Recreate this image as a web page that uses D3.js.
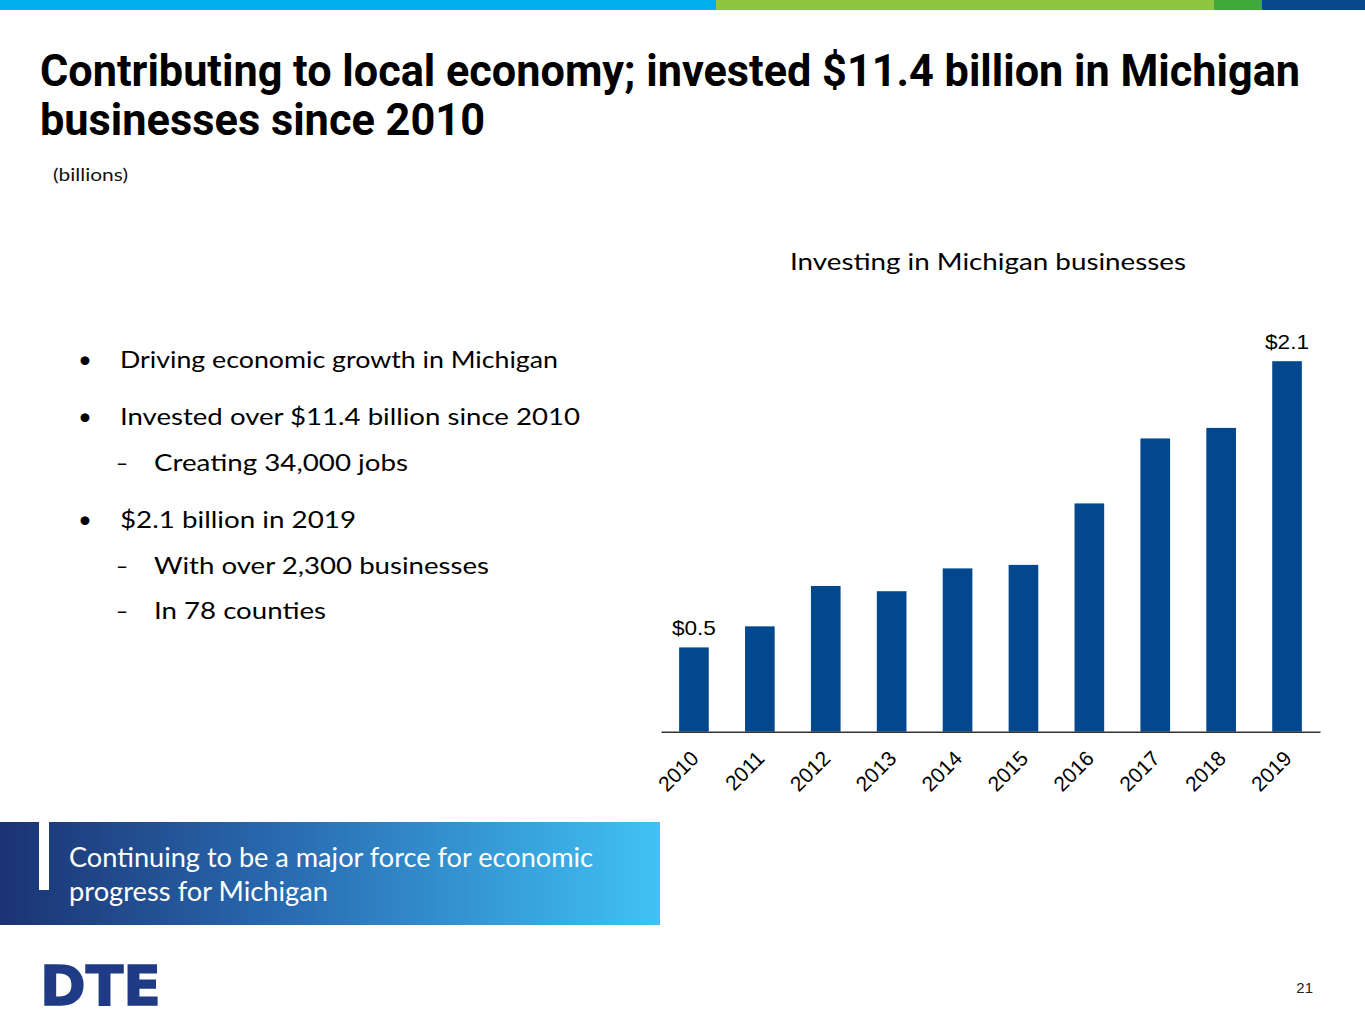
<!DOCTYPE html>
<html>
<head>
<meta charset="utf-8">
<script src="https://cdn.jsdelivr.net/npm/d3@7"></script>
<style>
  body { margin: 0; background: #fff; }
  svg { display: block; }
</style>
</head>
<body>
<div id="canvas"></div>
<script>
// chart data (billions)
var years = ["2010", "2011", "2012", "2013", "2014", "2015", "2016", "2017", "2018", "2019"];
var invested = [0.48, 0.60, 0.83, 0.80, 0.93, 0.95, 1.30, 1.67, 1.73, 2.11];
var valueLabels = { "2010": "$0.5", "2019": "$2.1" };

var titleLines = ["Contributing to local economy; invested $11.4 billion in Michigan", "businesses since 2010"];
var unitLabel = "(billions)";
var chartTitle = "Investing in Michigan businesses";
var bullets = [
  { level: 0, text: "Driving economic growth in Michigan" },
  { level: 0, text: "Invested over $11.4 billion since 2010" },
  { level: 1, text: "Creating 34,000 jobs" },
  { level: 0, text: "$2.1 billion in 2019" },
  { level: 1, text: "With over 2,300 businesses" },
  { level: 1, text: "In 78 counties" }
];
var bannerLines = ["Continuing to be a major force for economic", "progress for Michigan"];
var pageNum = "21";

// layout bits
var W = 1365, H = 1024;
var bodyFont = "Lato, 'Open Sans', sans-serif";
var labelFont = "'Liberation Sans', Arial, sans-serif";
var barColor = "#03488f";

var svg = d3.select("#canvas").append("svg")
    .attr("width", W)
    .attr("height", H);

// squeeze a text to a measured width
function fit(sel, w) {
  sel.attr("textLength", w).attr("lengthAdjust", "spacingAndGlyphs");
}

// ---- top colour strip
var strip = [
  { x0: 0, x1: 716, c: "#00aeef" },
  { x0: 716, x1: 1214, c: "#8dc63f" },
  { x0: 1214, x1: 1262, c: "#3fa93a" },
  { x0: 1262, x1: 1365, c: "#0a4a8c" }
];
svg.selectAll("rect.strip").data(strip).enter().append("rect")
    .attr("class", "strip")
    .attr("x", function(d) { return d.x0; })
    .attr("y", 0)
    .attr("width", function(d) { return d.x1 - d.x0; })
    .attr("height", 10)
    .attr("fill", function(d) { return d.c; });

// ---- title
var titleW = [1260, 445];
svg.selectAll("text.title").data(titleLines).enter().append("text")
    .attr("class", "title")
    .attr("x", 40)
    .attr("y", function(d, i) { return 86 + i * 49; })
    .attr("font-family", "'Liberation Sans Narrow', Roboto, sans-serif")
    .attr("font-weight", 700)
    .attr("font-size", 44)
    .attr("fill", "#000")
    .text(function(d) { return d; })
    .each(function(d, i) { fit(d3.select(this), titleW[i]); });

svg.append("text")
    .attr("x", 53)
    .attr("y", 181)
    .attr("font-family", bodyFont)
    .attr("font-size", 17)
    .attr("fill", "#111")
    .text(unitLabel)
    .call(fit, 75);

// ---- bullet list
var bulletY = [368, 425, 471, 528, 574, 619];
var bulletW = [438, 460, 254, 236, 335, 172];
var items = svg.selectAll("g.item").data(bullets).enter().append("g")
    .attr("class", "item")
    .attr("transform", function(d, i) { return "translate(0," + bulletY[i] + ")"; });

items.append("text")
    .attr("x", function(d) { return d.level ? 116 : 78; })
    .attr("font-family", bodyFont)
    .attr("font-size", 24)
    .attr("fill", "#000")
    .text(function(d) { return d.level ? "\u2013" : "\u2022"; })
    .each(function(d) { if (d.level) fit(d3.select(this), 12); });

items.append("text")
    .attr("x", function(d) { return d.level ? 154 : 120; })
    .attr("font-family", bodyFont)
    .attr("font-size", 24)
    .attr("fill", "#000")
    .text(function(d) { return d.text; })
    .each(function(d, i) { fit(d3.select(this), bulletW[i]); });

// ---- bar chart
var baseY = 731.7;
var x = d3.scaleBand()
    .domain(years)
    .range([661, 1320])
    .paddingInner(0.55)
    .paddingOuter(0.275);

var y = d3.scaleLinear()
    .domain([0, 2.4])
    .range([baseY, baseY - 2.4 * 175.6]);

svg.append("text")
    .attr("x", 988)
    .attr("y", 270)
    .attr("text-anchor", "middle")
    .attr("font-family", bodyFont)
    .attr("font-size", 24)
    .attr("fill", "#000")
    .text(chartTitle)
    .call(fit, 396);

svg.selectAll("rect.bar").data(years).enter().append("rect")
    .attr("class", "bar")
    .attr("x", function(d) { return x(d); })
    .attr("y", function(d, i) { return y(invested[i]); })
    .attr("width", x.bandwidth())
    .attr("height", function(d, i) { return y(0) - y(invested[i]); })
    .attr("fill", barColor);

svg.selectAll("text.vlab").data(years.filter(function(d) { return valueLabels[d]; }))
  .enter().append("text")
    .attr("class", "vlab")
    .attr("x", function(d) { return x(d) + x.bandwidth() / 2; })
    .attr("y", function(d) { return y(invested[years.indexOf(d)]) - 12; })
    .attr("text-anchor", "middle")
    .attr("font-family", labelFont)
    .attr("font-size", 21)
    .attr("fill", "#000")
    .text(function(d) { return valueLabels[d]; })
    .call(fit, 44);

var xAxis = svg.append("g")
    .attr("transform", "translate(0," + baseY + ")")
    .call(d3.axisBottom(x).tickSize(0).tickSizeOuter(0));

xAxis.select(".domain")
    .attr("stroke", "#333")
    .attr("stroke-width", 1.6);

xAxis.selectAll(".tick text")
    .attr("x", null)
    .attr("y", null)
    .attr("dy", null)
    .attr("transform", "translate(6,28) rotate(-45)")
    .attr("text-anchor", "end")
    .attr("font-family", labelFont)
    .attr("font-size", 21)
    .attr("fill", "#000");

// ---- bottom banner
var defs = svg.append("defs");
var grad = defs.append("linearGradient")
    .attr("id", "bannerGrad")
    .attr("x1", "0%").attr("x2", "100%")
    .attr("y1", "0%").attr("y2", "0%");
grad.append("stop").attr("offset", "0%").attr("stop-color", "#1b3372");
grad.append("stop").attr("offset", "45%").attr("stop-color", "#2a6db3");
grad.append("stop").attr("offset", "100%").attr("stop-color", "#40c2f4");

svg.append("rect")
    .attr("x", 0).attr("y", 822)
    .attr("width", 660).attr("height", 103)
    .attr("fill", "url(#bannerGrad)");

svg.append("rect")
    .attr("x", 39).attr("y", 822)
    .attr("width", 10).attr("height", 68)
    .attr("fill", "#fff");

var bannerW = [524, 259];
svg.selectAll("text.banner").data(bannerLines).enter().append("text")
    .attr("class", "banner")
    .attr("x", 69)
    .attr("y", function(d, i) { return 867 + i * 34; })
    .attr("font-family", bodyFont)
    .attr("font-size", 26)
    .attr("fill", "#fff")
    .text(function(d) { return d; })
    .each(function(d, i) { fit(d3.select(this), bannerW[i]); });

// ---- logo + page number
svg.append("text")
    .attr("x", 40)
    .attr("y", 1005)
    .attr("font-family", "'DejaVu Sans', sans-serif")
    .attr("font-weight", 700)
    .attr("font-size", 55)
    .attr("fill", "#1f3b85")
    .attr("stroke", "#1f3b85")
    .attr("stroke-width", 1.5)
    .text("DTE")
    .call(fit, 121);

svg.append("text")
    .attr("x", 1313)
    .attr("y", 993)
    .attr("text-anchor", "end")
    .attr("font-family", labelFont)
    .attr("font-size", 15)
    .attr("fill", "#222")
    .text(pageNum);
</script>
</body>
</html>
